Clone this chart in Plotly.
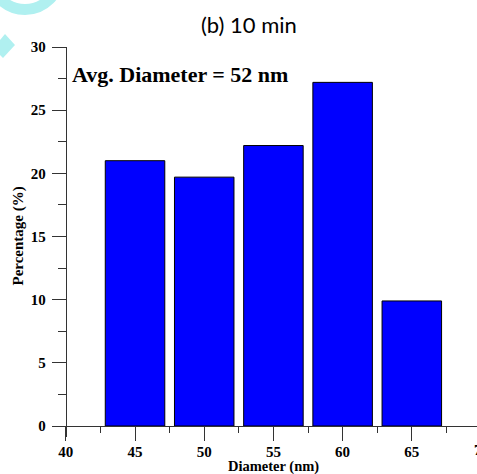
import plotly.graph_objects as go

# Data
diameters = [45, 50, 55, 60, 65]
percentages = [21.0, 19.7, 22.2, 27.2, 9.9]
title_text = "(b) 10 min"
avg_text = "Avg. Diameter = 52 nm"
x_title = "Diameter (nm)"
y_title = "Percentage (%)"

W, H = 477, 474
L, R, T, B = 52, 0, 47, 37
x_range = [39, 69.71]
y_range = [-0.87, 30]

def px(xp):
    return (xp - L) / (W - L - R)

def py(yp):
    return (H - B - yp) / (H - T - B)

serif = "Liberation Serif"

fig = go.Figure()
fig.add_trace(go.Bar(
    x=diameters, y=percentages, width=4.3,
    marker=dict(color="#0000FF", line=dict(color="black", width=1)),
))

axis_common = dict(
    showgrid=False, zeroline=False, showline=True, linecolor="#333", linewidth=1,
    ticks="outside", ticklen=14, tickwidth=1, tickcolor="#333",
    tickfont=dict(family=serif, size=15, color="black", weight="bold"),
)

fig.update_layout(
    width=W, height=H,
    margin=dict(l=L, r=R, t=T, b=B, pad=0),
    plot_bgcolor="white", paper_bgcolor="white",
    showlegend=False,
    xaxis=dict(range=x_range, tick0=40, dtick=5, anchor="free",
               position=0.87 / 30.87, ticklabelstandoff=-2,
               minor=dict(ticks="outside", ticklen=6, dtick=2.5, tick0=40, tickcolor="#333"),
               **axis_common),
    yaxis=dict(range=y_range, tick0=0, dtick=5, anchor="free",
               position=1 / (x_range[1] - x_range[0]), ticklabelstandoff=3,
               minor=dict(ticks="outside", ticklen=8, dtick=2.5, tick0=0, tickcolor="#333"),
               **axis_common),
)

annotations = [
    dict(text=title_text, xref="paper", yref="paper", x=px(249), y=py(25),
         showarrow=False, xanchor="center", yanchor="middle",
         font=dict(family="Lato", size=22, color="black")),
    dict(text=avg_text, xref="x", yref="y", x=40.3, y=27.8,
         showarrow=False, xanchor="left", yanchor="middle",
         font=dict(family=serif, size=22, color="black", weight="bold")),
    dict(text=x_title, xref="x", yref="paper", x=55, y=py(466),
         showarrow=False, xanchor="center", yanchor="middle",
         font=dict(family=serif, size=14.5, color="black", weight="bold")),
    dict(text=y_title, xref="paper", yref="y", x=px(18), y=15,
         showarrow=False, xanchor="center", yanchor="middle", textangle=-90,
         font=dict(family=serif, size=15, color="black", weight="bold")),
    dict(text="70", xref="paper", yref="paper", x=px(481), y=py(450),
         showarrow=False, xanchor="center", yanchor="middle",
         font=dict(family=serif, size=15, color="black", weight="bold")),
]
fig.update_layout(annotations=annotations)

cyan = "rgb(176,240,240)"
cx, cy, r = 25, -25, 34.5
fig.add_shape(type="circle", xref="paper", yref="paper",
              x0=px(cx - r), x1=px(cx + r), y0=py(cy + r), y1=py(cy - r),
              line=dict(color=cyan, width=11), fillcolor="rgba(0,0,0,0)", layer="below")
pts = [(0, 40), (5, 34), (15, 45), (3, 58), (0, 55)]
path = "M " + " L ".join(f"{px(a):.4f},{py(b):.4f}" for a, b in pts) + " Z"
fig.add_shape(type="path", xref="paper", yref="paper", path=path,
              fillcolor=cyan, line=dict(width=0), layer="below")

fig.write_html("out.html")
